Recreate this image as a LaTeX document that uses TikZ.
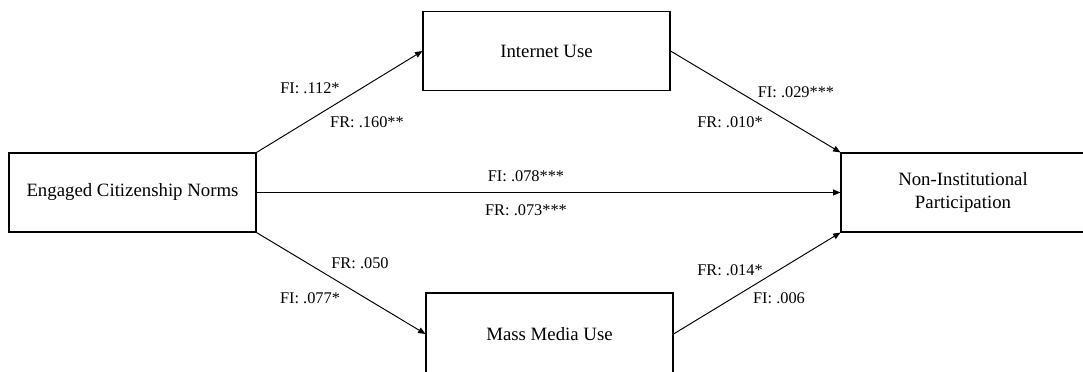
\documentclass[tikz,border=0pt]{standalone}
\usepackage{fontspec}
\setmainfont{Liberation Serif}
\usetikzlibrary{arrows.meta,positioning}

\tikzset{
  varbox/.style={draw,line width=0.65pt,minimum width=4.94cm,minimum height=1.58cm,
    inner sep=0pt,align=center,font=\fontsize{10.7}{13.6}\selectfont},
  coef/.style={inner sep=0pt,font=\fontsize{9.3}{11}\selectfont},
  path/.style={line width=0.55pt,-{Triangle[length=4.2pt,width=3.4pt]}}
}

\begin{document}
\begin{tikzpicture}[x=0.02cm,y=-0.02cm]
    \useasboundingbox (0,0) rectangle (1083,372);
    \clip (0,0) rectangle (1083,372);
    % variables
    \node[varbox] (norms) at (132.5,192.5) {Engaged Citizenship Norms};
    \node[varbox] (internet) at (546.5,51) {Internet Use};
    \node[varbox,minimum height=1.64cm] (media) at (549.5,334) {Mass Media Use};
    % box runs past the right edge
    \node[varbox,minimum width=6cm] (nonInst) at (991,192.5)
      {Non-Institutional\hspace*{1.12cm}\\Participation\hspace*{1.12cm}};
    % paths
    \draw[path] (norms.north east) -- (internet.west);
    \draw[path] (norms.east) -- (nonInst.west);
    \draw[path] (norms.south east) -- (media.west);
    \draw[path] (internet.east) -- (nonInst.north west);
    \draw[path] (media.east) -- (nonInst.south west);
    % coefficients
    \node[coef] (fiA) at (310,88) {FI: .112*};
    \node[coef] (frA) at (367,122) {FR: .160**};
    \node[coef] (fiC) at (526,176) {FI: .078***};
    \node[coef] (frC) at (526,210) {FR: .073***};
    \node[coef] (frM) at (360,263) {FR: .050};
    \node[coef] (fiM) at (310,298) {FI: .077*};
    \node[coef] (fiB) at (796,92) {FI: .029***};
    \node[coef] (frB) at (730,122) {FR: .010*};
    \node[coef] (frD) at (730,270) {FR: .014*};
    \node[coef] (fiD) at (779,298) {FI: .006};
\end{tikzpicture}
\end{document}
